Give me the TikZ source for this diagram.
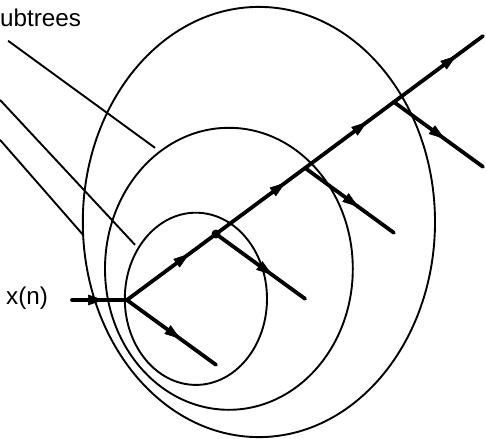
\documentclass[tikz,border=0pt]{standalone}
\usepackage{fontspec}
\setmainfont{Liberation Sans}
\usetikzlibrary{arrows.meta,decorations.markings}

\begin{document}
\begin{tikzpicture}[x=1cm,y=1cm,
  thinline/.style={line width=1.8pt},
  branch/.style={line width=3.6pt,line cap=round,postaction={decorate},
    decoration={markings,mark=at position #1 with {\arrow{Triangle[length=15pt,width=10pt,line width=0.6pt]}}}},
  branch/.default=0.6,
  lbl/.style={anchor=base west,inner sep=0pt,font=\fontsize{23}{27}\selectfont}]
\path[use as bounding box] (0,0) rectangle (16.20,14.63);
% subtrees
\draw[thinline] (6.53,4.67) ellipse (2.37 and 2.87);
\draw[thinline] (7.63,5.67) ellipse (4.13 and 4.70);
\draw[thinline] (8.63,7.23) ellipse (5.87 and 7.17);
% labels and leaders
\node[lbl] (sub) at (0,13.73) {ubtrees};
\node[lbl] (xn) at (0.20,4.47) {x(n)};
\coordinate (l1a) at (0.27,13.27); \coordinate (l1b) at (5.17,9.70);
\coordinate (l2a) at (0,11.30);    \coordinate (l2b) at (4.50,6.47);
\coordinate (l3a) at (0,9.97);     \coordinate (l3b) at (2.77,6.80);
\draw[thinline] (l1a) -- (l1b);
\draw[thinline] (l2a) -- (l2b);
\draw[thinline] (l3a) -- (l3b);
% tree
\coordinate (xin) at (2.40,4.63);
\coordinate (root) at (4.23,4.63);
\coordinate (n1) at (7.20,6.83);
\coordinate (n2) at (10.17,9.03);
\coordinate (n3) at (13.13,11.23);
\coordinate (n4) at (16.10,13.43);
\coordinate (d0) at (7.20,2.47);
\coordinate (d1) at (10.17,4.67);
\coordinate (d2) at (13.13,6.87);
\coordinate (d3) at (16.10,9.07);
\draw[branch=0.58] (xin) -- (root);
\draw[branch=0.7] (root) -- (n1);
\draw[branch=0.78] (n1) -- (n2);
\draw[branch=0.7] (n2) -- (n3);
\draw[branch=0.7] (n3) -- (n4);
\draw[branch] (root) -- (d0);
\draw[branch=0.63] (n1) -- (d1);
\draw[branch] (n2) -- (d2);
\draw[branch=0.57] (n3) -- (d3);
\fill (n1) circle (0.15);
\end{tikzpicture}
\end{document}
